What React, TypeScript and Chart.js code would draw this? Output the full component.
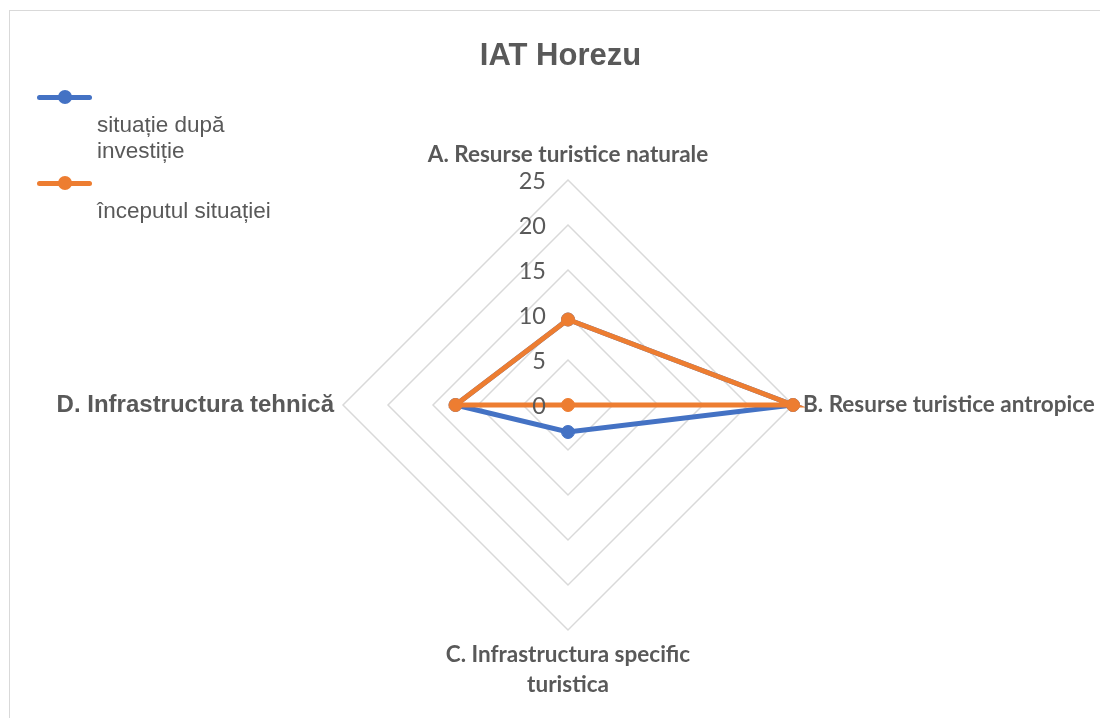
import React, { useEffect, useRef } from 'react';
import { Chart, registerables } from 'chart.js';

Chart.register(...registerables);

const chartTitle = 'IAT Horezu';
const categories: (string | string[])[] = [
  'A. Resurse turistice naturale',
  'B. Resurse turistice antropice',
  ['C. Infrastructura specific', 'turistica'],
  'D. Infrastructura tehnică',
];
const seriesNames = ['situație după investiție', 'începutul situației'];
const legendLines = [['situație după', 'investiție'], ['începutul situației']];
const afterInvestment = [9.5, 25, 3, 12.5];
const initialSituation = [9.5, 25, 0, 12.5];
const axisMin = 0;
const axisMax = 25;
const axisStep = 5;

const BLUE = '#4472C4';
const ORANGE = '#ED7D31';
const TEXT = '#595959';
const GRID = '#D9D9D9';

const labelPlugin = {
  id: 'customLabels',
  afterDatasetsDraw(chart: any) {
    const scale = chart.scales.r;
    const ctx = chart.ctx as CanvasRenderingContext2D;
    ctx.save();
    // tick labels
    ctx.fillStyle = TEXT;
    ctx.font = '23.5px Lato, "Liberation Sans", sans-serif';
    ctx.textAlign = 'right';
    ctx.textBaseline = 'middle';
    for (const t of scale.ticks) {
      const d = scale.getDistanceFromCenterForValue(t.value);
      ctx.fillText(String(t.value), scale.xCenter - 22, scale.yCenter - d + 1);
    }
    // point labels
    const pads = [25, 10, 25, 9];
    categories.forEach((lab, i) => {
      const lines = Array.isArray(lab) ? lab : [lab];
      const pos = scale.getPointPosition(i, scale.drawingArea + pads[i]);
      const angle = pos.angle;
      const c = Math.cos(angle);
      const s = Math.sin(angle);
      ctx.textAlign = Math.abs(c) < 0.01 ? 'center' : c > 0 ? 'left' : 'right';
      ctx.textBaseline = 'middle';
      ctx.font = i === 3
        ? 'bold 24px "Liberation Sans", Arial, sans-serif'
        : 'bold 22.5px Lato, "Liberation Sans", sans-serif';
      const lh = 30;
      lines.forEach((ln, k) => {
        let y = pos.y;
        if (s > 0.01) y = pos.y + k * lh;
        else if (s < -0.01) y = pos.y - (lines.length - 1 - k) * lh;
        else y = pos.y + (k - (lines.length - 1) / 2) * lh;
        ctx.fillText(ln, pos.x, y);
      });
    });
    ctx.restore();
  },
};

function LegendMarker({ color, top }: { color: string; top: number }) {
  return (
    <div style={{ position: 'absolute', left: 37, top: top - 2.5, width: 55, height: 5, background: color, borderRadius: 3 }}>
      <div style={{ position: 'absolute', left: 21, top: -4.5, width: 14, height: 14, borderRadius: '50%', background: color }} />
    </div>
  );
}

export default function App() {
  const canvasRef = useRef<HTMLCanvasElement | null>(null);

  useEffect(() => {
    document.body.style.margin = '0';
    const canvas = canvasRef.current;
    if (!canvas) return;
    const chart = new Chart(canvas, {
      type: 'radar',
      data: {
        labels: categories.map((c) => (Array.isArray(c) ? c.join(' ') : c)),
        datasets: [
          {
            label: seriesNames[0],
            data: afterInvestment,
            borderColor: BLUE,
            backgroundColor: BLUE,
            pointBackgroundColor: BLUE,
            pointBorderColor: BLUE,
            borderWidth: 5,
            pointRadius: 6.5,
            pointBorderWidth: 1,
            fill: false,
            order: 2,
            clip: false,
          } as any,
          {
            label: seriesNames[1],
            data: initialSituation,
            borderColor: ORANGE,
            backgroundColor: ORANGE,
            pointBackgroundColor: ORANGE,
            pointBorderColor: ORANGE,
            borderWidth: 5,
            pointRadius: 6.5,
            pointBorderWidth: 1,
            fill: false,
            order: 1,
            clip: false,
          } as any,
        ],
      },
      options: {
        animation: false,
        responsive: false,
        maintainAspectRatio: false,
        layout: { padding: { left: 343, right: 307, top: 180, bottom: 88 } },
        plugins: {
          legend: { display: false },
          title: { display: false },
          tooltip: { enabled: false },
        },
        elements: { line: { tension: 0 } },
        scales: {
          r: {
            min: axisMin,
            max: axisMax,
            ticks: { display: false, stepSize: axisStep },
            grid: { color: GRID, lineWidth: 1.5, circular: false },
            angleLines: { display: false },
            pointLabels: { display: false },
          },
        },
      },
      plugins: [labelPlugin],
    });
    return () => chart.destroy();
  }, []);

  return (
    <div style={{ position: 'relative', width: 1100, height: 718, overflow: 'hidden', background: '#fff', fontFamily: '"Liberation Sans", Arial, sans-serif' }}>
      <div style={{ position: 'absolute', left: 9, top: 10, width: 1200, height: 800, border: `1.5px solid ${GRID}`, boxSizing: 'border-box' }} />
      <canvas ref={canvasRef} width={1100} height={718} style={{ position: 'absolute', left: 0, top: 0, width: 1100, height: 718 }} />
      <div style={{ position: 'absolute', left: 0, width: 1121, top: 36, textAlign: 'center', fontWeight: 'bold', fontSize: 31, lineHeight: '38px', color: TEXT }}>
        {chartTitle}
      </div>
      <LegendMarker color={BLUE} top={97} />
      <div style={{ position: 'absolute', left: 97, top: 112, fontSize: 22.5, lineHeight: '26px', color: TEXT }}>
        {legendLines[0].map((l, i) => (<div key={i}>{l}</div>))}
      </div>
      <LegendMarker color={ORANGE} top={183} />
      <div style={{ position: 'absolute', left: 97, top: 198, fontSize: 22.5, lineHeight: '26px', color: TEXT }}>
        {legendLines[1].map((l, i) => (<div key={i}>{l}</div>))}
      </div>
    </div>
  );
}
